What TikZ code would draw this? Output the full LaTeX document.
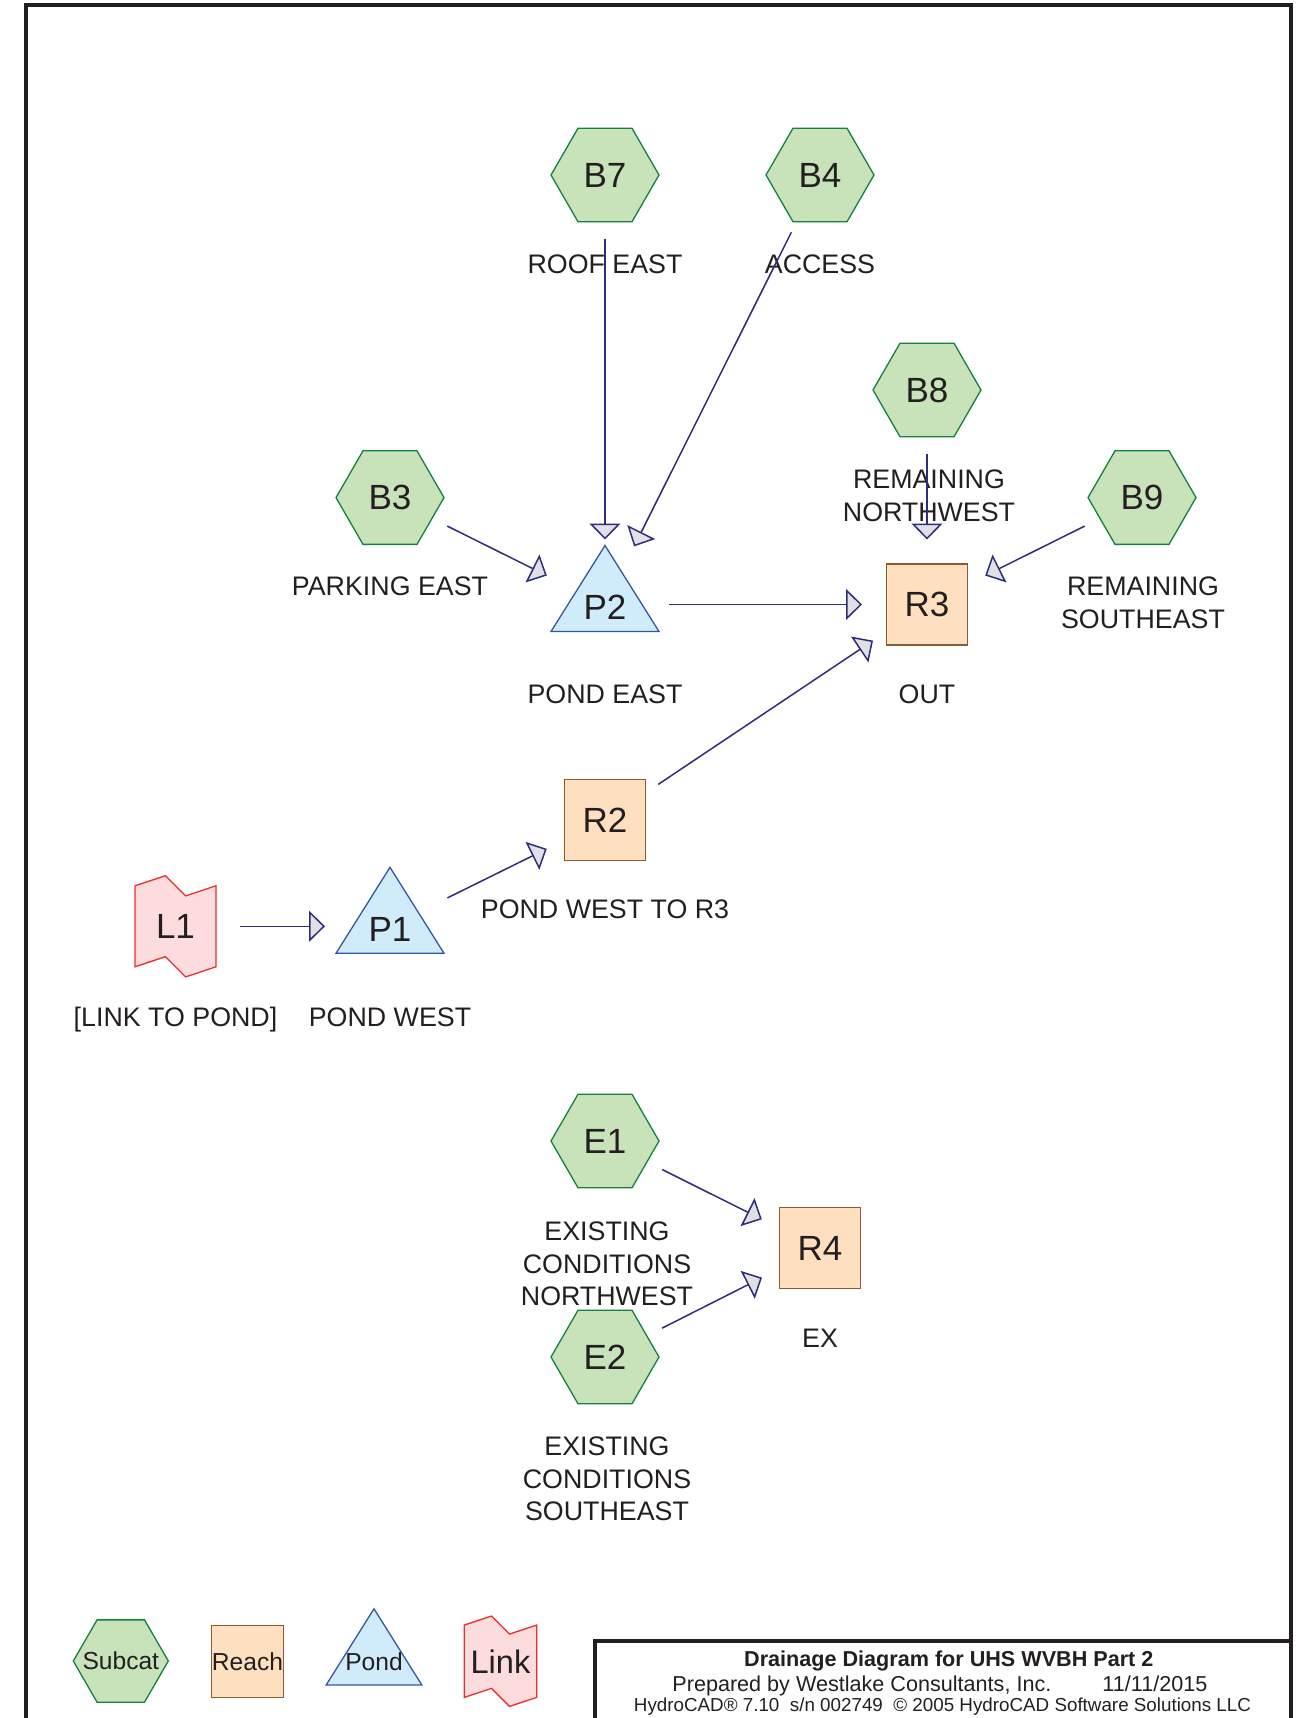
\documentclass[tikz,border=0pt]{standalone}
\usepackage{fontspec}
\setmainfont{Liberation Sans}
\usetikzlibrary{arrows.meta,shapes.geometric}

\definecolor{ink}{RGB}{35,31,32}
\definecolor{subfill}{RGB}{200,226,186}
\definecolor{subline}{RGB}{22,128,62}
\definecolor{reachfill}{RGB}{254,224,192}
\definecolor{reachline}{RGB}{139,90,50}
\definecolor{pondfill}{RGB}{208,236,250}
\definecolor{pondline}{RGB}{52,86,166}
\definecolor{linkfill}{RGB}{253,220,221}
\definecolor{linkline}{RGB}{236,45,46}
\definecolor{flow}{RGB}{46,45,125}
\definecolor{tipfill}{RGB}{224,225,229}

\pgfdeclarelayer{back}
\pgfsetlayers{back,main}

\tikzset{
  nodefont/.style={font=\fontsize{17.5}{20}\selectfont, text=ink},
  legendfont/.style={font=\fontsize{12.3}{14}\selectfont, text=ink},
  outline/.style={line width=0.65pt},
  subcat/.style={nodefont, outline, regular polygon, regular polygon sides=6,
    minimum size=54pt, inner sep=0pt, draw=subline, fill=subfill},
  reach/.style={nodefont, outline, rectangle, minimum size=40.5pt,
    inner sep=0pt, draw=reachline, fill=reachfill},
  plain/.style={nodefont, inner sep=0pt},
  pondtext/.style={plain, text height=15pt, text depth=0pt},
  pondshape/.style={outline, draw=pondline, fill=pondfill},
  linkshape/.style={outline, draw=linkline, fill=linkfill},
  pondpic/.pic={\path[pondshape] (0,-59) -- (54,27) -- (-54,27) -- cycle;},
  linkpic/.pic={\path[linkshape] (-40.5,-40.5) -- (-10.1,-50.6) -- (10.1,-30.4)
    -- (40.5,-40.5) -- (40.5,40.5) -- (10.1,50.6) -- (-10.1,30.4)
    -- (-40.5,40.5) -- cycle;},
  flowarrow/.style={draw=flow, line width=0.75pt,
    -{Triangle[length=8pt, width=15.5pt, fill=tipfill]},
    shorten <=32pt, shorten >=32.5pt},
  lbl/.style={font=\fontsize{13.4}{16.35}\selectfont, text=ink, align=center, inner sep=0pt},
  lblone/.style={lbl, text height=9.6pt, text depth=0pt},
  frameline/.style={draw=ink, line width=2pt},
}

\begin{document}
\begin{tikzpicture}[x=0.5pt, y=-0.5pt]
\useasboundingbox (0,0) rectangle (1300,1718);

% page frame and title block
\draw[frameline] (25.8,1730) -- (25.8,5.3) -- (1290.7,5.3) -- (1290.7,1730);
\draw[frameline] (595.3,1730) -- (595.3,1641.3) -- (1290.7,1641.3);

% subcatchments
\node[subcat] (B7) at (605,175) {B7};
\node[subcat] (B4) at (820,175) {B4};
\node[subcat] (B8) at (927,390) {B8};
\node[subcat] (B3) at (390,497.6) {B3};
\node[subcat] (B9) at (1142,497.6) {B9};
\node[subcat] (E1) at (605,1141) {E1};
\node[subcat] (E2) at (605,1357) {E2};

% reaches
\node[reach] (R3) at (927,604.5) {R3};
\node[reach] (R2) at (605,820) {R2};
\node[reach] (R4) at (820,1248.3) {R4};

% ponds and link
\node[pondtext] (P2) at (605,604.5) {P2};
\node[pondtext] (P1) at (390,926.3) {P1};
\node[plain] (L1) at (175.5,926.3) {L1};
\begin{pgfonlayer}{back}
  \pic at (P2.center) {pondpic};
  \pic at (P1.center) {pondpic};
  \pic at (L1.center) {linkpic};
\end{pgfonlayer}

% node descriptions
\node[lblone] (tB7) at (605,264) {ROOF EAST};
\node[lblone] (tB4) at (820,264) {ACCESS};
\node[lbl] (tB8) at (929,495.5) {REMAINING\\NORTHWEST};
\node[lblone] (tB3) at (390,586) {PARKING EAST};
\node[lbl] (tB9) at (1143,603) {REMAINING\\SOUTHEAST};
\node[lblone] (tP2) at (605,694) {POND EAST};
\node[lblone] (tR3) at (927,694) {OUT};
\node[lblone] (tR2) at (605,909) {POND WEST TO R3};
\node[lblone] (tL1) at (175.5,1017) {[LINK TO POND]};
\node[lblone] (tP1) at (390,1017) {POND WEST};
\node[lbl] (tE1) at (607,1264) {EXISTING\\CONDITIONS\\NORTHWEST};
\node[lblone] (tR4) at (820,1338) {EX};
\node[lbl] (tE2) at (607,1479) {EXISTING\\CONDITIONS\\SOUTHEAST};

% flow connectors
\draw[flowarrow] (B7.center) -- (P2.center);
\draw[flowarrow] (B4.center) -- (P2.center);
\draw[flowarrow] (B3.center) -- (P2.center);
\draw[flowarrow] (P2.center) -- (R3.center);
\draw[flowarrow] (B8.center) -- (R3.center);
\draw[flowarrow] (B9.center) -- (R3.center);
\draw[flowarrow] (R2.center) -- (R3.center);
\draw[flowarrow] (P1.center) -- (R2.center);
\draw[flowarrow] (L1.center) -- (P1.center);
\draw[flowarrow] (E1.center) -- (R4.center);
\draw[flowarrow] (E2.center) -- (R4.center);

% legend
\node[subcat, legendfont, minimum size=47.5pt] (kSub) at (120.8,1661) {\makebox[0pt]{Subcat}};
\node[reach, legendfont, minimum size=35.8pt] (kReach) at (247.5,1661.5) {\makebox[0pt]{Reach}};
\node[plain, legendfont] (kPond) at (374,1662) {Pond};
\node[plain, font=\fontsize{16.3}{18}\selectfont] (kLink) at (500.5,1661.2) {Link};
\begin{pgfonlayer}{back}
  \pic[scale=0.885] at (374,1661) {pondpic};
  \pic[scale=0.893] at (kLink.center) {linkpic};
\end{pgfonlayer}

% title block text
\node[anchor=base, inner sep=0pt, text=ink, font=\bfseries\fontsize{10.8}{12}\selectfont]
  (title) at (948.8,1666) {Drainage Diagram for UHS WVBH Part 2};
\node[anchor=base west, inner sep=0pt, text=ink, font=\fontsize{10.8}{12}\selectfont]
  (prep) at (672,1691.7) {Prepared by Westlake Consultants, Inc.};
\node[anchor=base west, inner sep=0pt, text=ink, font=\fontsize{10.8}{12}\selectfont]
  (date) at (1102,1691.7) {11/11/2015};
\node[anchor=base, inner sep=0pt, text=ink, font=\fontsize{9.4}{11}\selectfont]
  (soft) at (942.5,1711.7) {HydroCAD® 7.10~ s/n 002749~ ©~2005 HydroCAD Software Solutions LLC};
\end{tikzpicture}
\end{document}
